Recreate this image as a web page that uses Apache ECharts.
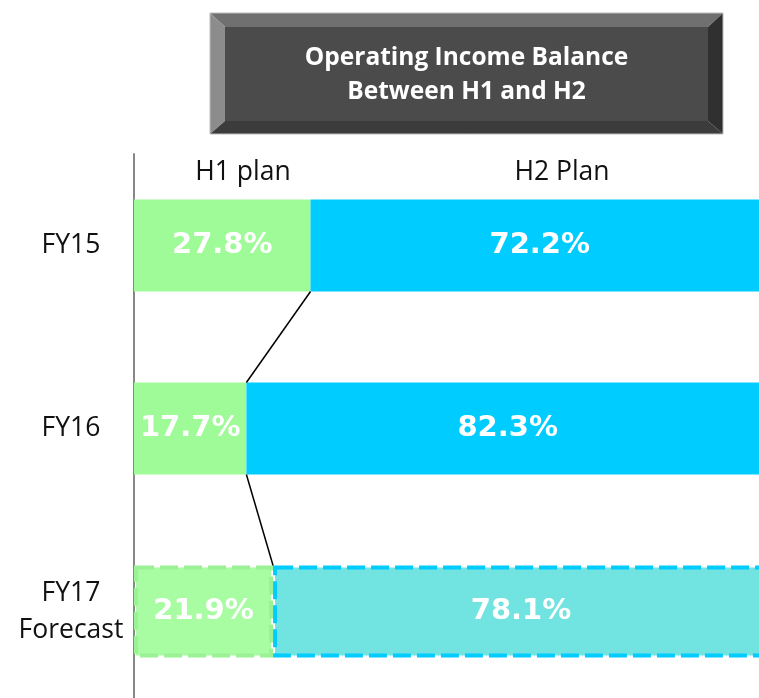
<!DOCTYPE html>
<html><head><meta charset="utf-8">
<script src="https://cdn.jsdelivr.net/npm/echarts@6/dist/echarts.min.js"></script>
<style>html,body{margin:0;padding:0;background:#fff}#c{width:759px;height:698px}</style>
</head><body><div id="c"></div>
<script>
const categories = ['FY15', 'FY16', 'FY17\nForecast'];
const h1Plan = [27.8, 17.7, 21.9];
const h2Plan = [72.2, 82.3, 78.1];
const seriesNames = ['H1 plan', 'H2 Plan'];
const titleLines = ['Operating Income Balance', 'Between H1 and H2'];

const chart = echarts.init(document.getElementById('c'), null, {renderer: 'canvas'});
const labelStyle = {show: true, position: 'inside', color: '#fff', fontFamily: 'DejaVu Sans', fontWeight: 'bold', fontSize: 29,
  formatter: p => p.value.toFixed(1) + '%'};
const BW = 92;
function build(vals, i) {
  return vals.map((v, k) => {
    if (k === 2) {
      return {value: v, itemStyle: i === 0
        ? {color: '#a8fca2', borderColor: '#9af294', borderWidth: 4, borderType: [18, 6]}
        : {color: '#71e3e0', borderColor: '#00ccff', borderWidth: 4, borderType: [18, 6]}};
    }
    return {value: v};
  });
}
chart.setOption({
  animation: false,
  grid: {left: 134, top: 154, width: 635, height: 549, containLabel: false, outerBoundsMode: 'none'},
  xAxis: {type: 'value', min: 0, max: 100, show: false},
  yAxis: {type: 'category', data: categories, inverse: true,
    axisLine: {show: true, lineStyle: {color: '#888', width: 2}},
    axisTick: {show: false},
    axisLabel: {color: '#111', fontFamily: 'Open Sans', fontSize: 26.5, align: 'center', margin: 63, lineHeight: 37}},
  series: [
    {name: seriesNames[0], type: 'bar', stack: 's', barWidth: BW, data: build(h1Plan, 0), itemStyle: {color: '#9ffb97'}, label: labelStyle},
    {name: seriesNames[1], type: 'bar', stack: 's', barWidth: BW, data: build(h2Plan, 1), itemStyle: {color: '#00ccff'}, label: labelStyle}
  ]
});

const px = (v, k) => chart.convertToPixel({gridIndex: 0}, [v, categories[k]]);
const lines = [];
for (let k = 0; k < categories.length - 1; k++) {
  const a = px(h1Plan[k], k), b = px(h1Plan[k + 1], k + 1);
  lines.push({type: 'line', shape: {x1: a[0], y1: a[1] + BW / 2, x2: b[0], y2: b[1] - BW / 2}, style: {stroke: '#000', lineWidth: 1.5}, z: 10});
}
const L = 210, R = 723, T = 13, B = 134, bl = 15, br = 15, bt = 14, bb = 13;
const hf = '26.5px "Open Sans"';
chart.setOption({graphic: [
  ...lines,
  {type: 'text', x: 243, y: 172, style: {text: seriesNames[0], align: 'center', verticalAlign: 'middle', fill: '#111', font: hf}},
  {type: 'text', x: 562, y: 172, style: {text: seriesNames[1], align: 'center', verticalAlign: 'middle', fill: '#111', font: hf}},
  {type: 'polygon', shape: {points: [[L, T], [R, T], [R - br, T + bt], [L + bl, T + bt]]}, style: {fill: '#707070'}},
  {type: 'polygon', shape: {points: [[L, T], [L + bl, T + bt], [L + bl, B - bb], [L, B]]}, style: {fill: '#8c8c8c'}},
  {type: 'polygon', shape: {points: [[R, T], [R, B], [R - br, B - bb], [R - br, T + bt]]}, style: {fill: '#303030'}},
  {type: 'polygon', shape: {points: [[L, B], [L + bl, B - bb], [R - br, B - bb], [R, B]]}, style: {fill: '#3c3c3c'}},
  {type: 'rect', shape: {x: L + bl, y: T + bt, width: R - L - bl - br, height: B - T - bt - bb}, style: {fill: '#4b4b4b'}},
  {type: 'rect', shape: {x: L, y: T, width: R - L, height: B - T}, style: {fill: 'none', stroke: '#bbb', lineWidth: 1}},
  {type: 'text', x: (L + R) / 2, y: 58, style: {text: titleLines[0], align: 'center', verticalAlign: 'middle', fill: '#fff', font: 'bold 24.5px "Open Sans"'}},
  {type: 'text', x: (L + R) / 2, y: 92, style: {text: titleLines[1], align: 'center', verticalAlign: 'middle', fill: '#fff', font: 'bold 24.5px "Open Sans"'}}
]});
</script></body></html>
